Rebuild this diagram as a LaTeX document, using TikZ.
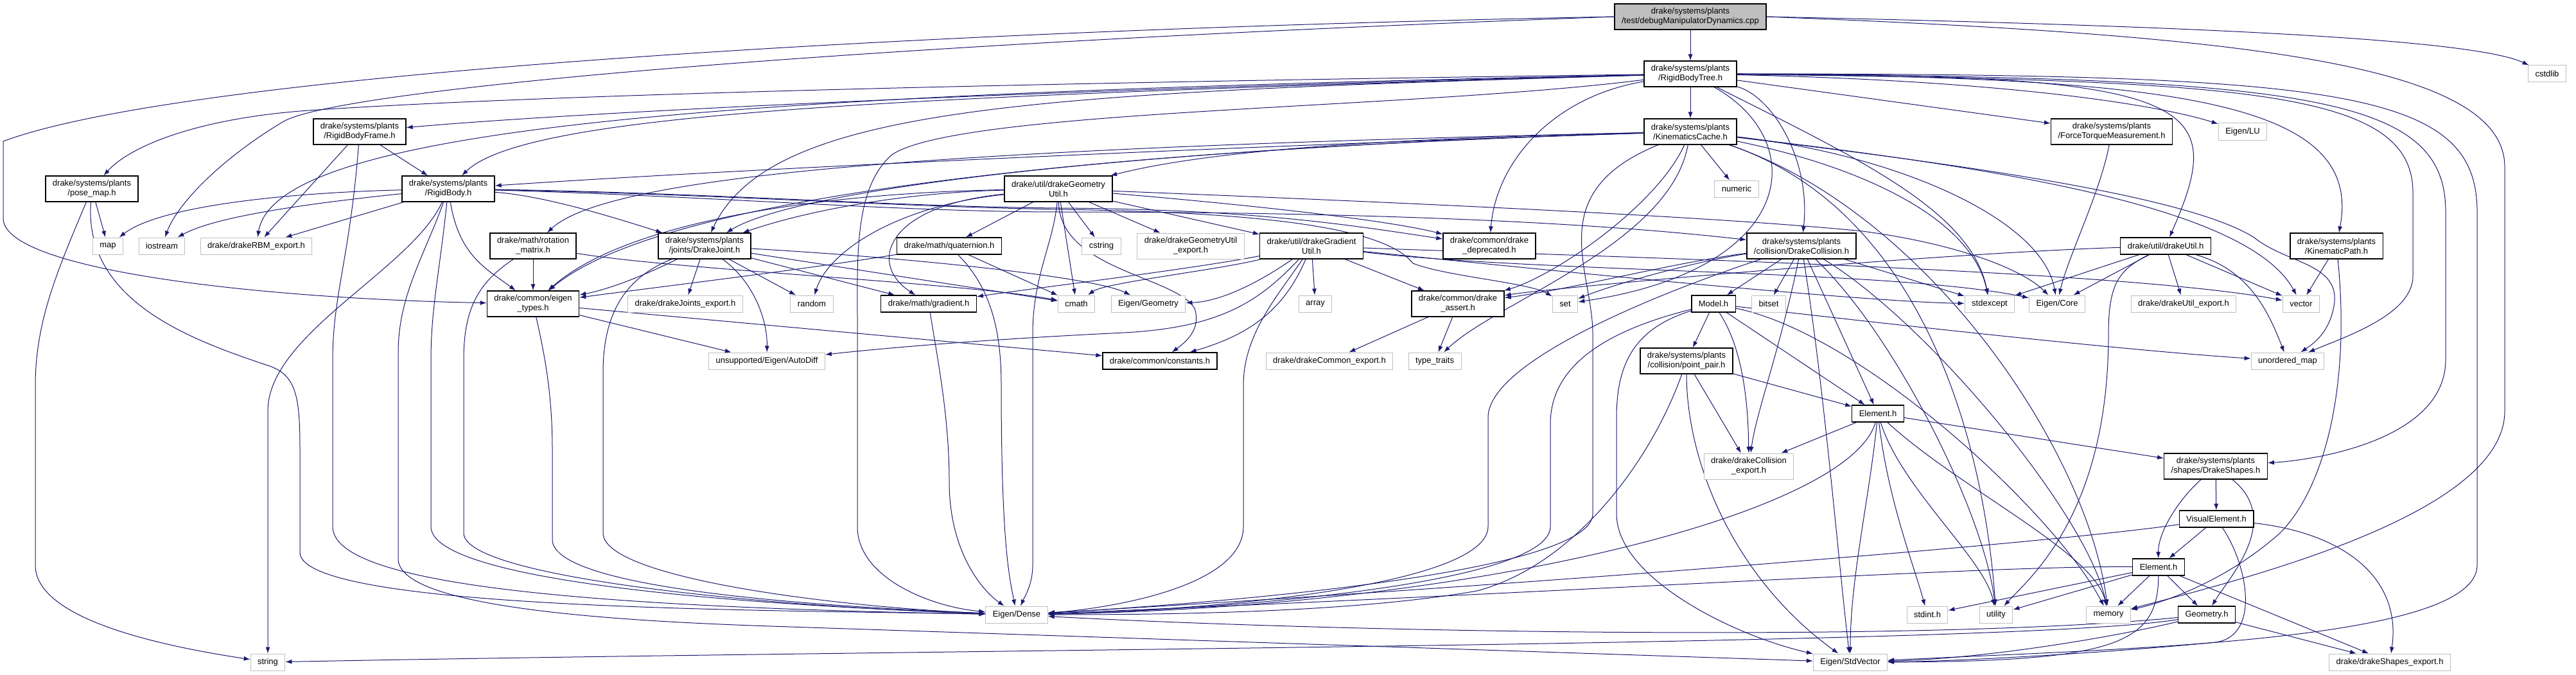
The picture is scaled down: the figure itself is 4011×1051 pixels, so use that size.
\documentclass[tikz,border=0pt]{standalone}
\usepackage{fontspec}
\setmainfont{Liberation Sans}
\usetikzlibrary{arrows.meta,backgrounds}
\definecolor{edgeblue}{RGB}{25,25,112}
\definecolor{sysgray}{RGB}{191,191,191}
\newcommand{\hdrfont}{\fontsize{13pt}{15pt}\selectfont}

\begin{document}
\begin{tikzpicture}[x=1pt,y=1pt,
  filebox/.style={
    draw=black,
    fill=white,
    line width=1.2pt,
    font=\hdrfont,
    align=center,
    inner xsep=11pt,
    inner ysep=2pt,
    minimum height=26pt
  },
  sysbox/.style={
    filebox,
    draw=sysgray,
    line width=1pt
  },
  rootbox/.style={
    filebox,
    fill=sysgray
  },
  twoline/.style={
    minimum height=40pt
  },
  dep/.style={
    -{Latex[length=10pt,width=7pt]},
    line width=1pt,
    draw=edgeblue
  }
  ]

  \useasboundingbox (0,0) rectangle (4011,-1051);

  \node[rootbox,twoline] (root) at (2632,-26) {drake/systems/plants\\/test/debugManipulatorDynamics.cpp};
  \node[filebox,twoline] (rbt) at (2632,-115) {drake/systems/plants\\/RigidBodyTree.h};
  \node[filebox,twoline] (kcache) at (2632,-205) {drake/systems/plants\\/KinematicsCache.h};
  \node[sysbox] (cstdlib) at (3966,-115) {cstdlib};
  \node[filebox,twoline] (rbframe) at (560,-205) {drake/systems/plants\\/RigidBodyFrame.h};
  \node[filebox,twoline] (ftm) at (3288,-205) {drake/systems/plants\\/ForceTorqueMeasurement.h};
  \node[sysbox] (eigenlu) at (3492,-205) {Eigen/LU};
  \node[filebox,twoline] (posemap) at (143,-294) {drake/systems/plants\\/pose\_map.h};
  \node[filebox,twoline] (rbody) at (698,-294) {drake/systems/plants\\/RigidBody.h};
  \node[filebox,twoline] (geomutil) at (1648,-294) {drake/util/drakeGeometry\\Util.h};
  \node[sysbox] (numeric) at (2704,-294) {numeric};
  \node[sysbox] (map) at (168,-383) {map};
  \node[sysbox] (iostream) at (252,-383) {iostream};
  \node[sysbox] (rbmexport) at (399,-383) {drake/drakeRBM\_export.h};
  \node[filebox,twoline] (rotmat) at (830,-383) {drake/math/rotation\\\_matrix.h};
  \node[filebox,twoline] (joint) at (1097,-383) {drake/systems/plants\\/joints/DrakeJoint.h};
  \node[filebox] (quat) at (1478,-383) {drake/math/quaternion.h};
  \node[sysbox] (cstring) at (1715,-383) {cstring};
  \node[sysbox,twoline] (geomexport) at (1854,-383) {drake/drakeGeometryUtil\\\_export.h};
  \node[filebox,twoline] (gradutil) at (2042,-383) {drake/util/drakeGradient\\Util.h};
  \node[filebox,twoline] (deprecated) at (2319,-383) {drake/common/drake\\\_deprecated.h};
  \node[filebox,twoline] (collision) at (2805,-383) {drake/systems/plants\\/collision/DrakeCollision.h};
  \node[filebox] (drakeutil) at (3372,-383) {drake/util/drakeUtil.h};
  \node[filebox,twoline] (kinpath) at (3638,-383) {drake/systems/plants\\/KinematicPath.h};
  \node[filebox,twoline] (eigentypes) at (830,-473) {drake/common/eigen\\\_types.h};
  \node[sysbox] (jointsexport) at (1067,-473) {drake/drakeJoints\_export.h};
  \node[sysbox] (random) at (1264,-473) {random};
  \node[filebox] (gradient) at (1446,-473) {drake/math/gradient.h};
  \node[sysbox] (cmath) at (1676,-473) {cmath};
  \node[sysbox] (geometry) at (1788,-473) {Eigen/Geometry};
  \node[sysbox] (array) at (2048,-473) {array};
  \node[filebox,twoline] (dassert) at (2270,-473) {drake/common/drake\\\_assert.h};
  \node[sysbox] (set) at (2437,-473) {set};
  \node[filebox] (model) at (2668,-473) {Model.h};
  \node[sysbox] (bitset) at (2754,-473) {bitset};
  \node[sysbox] (stdexcept) at (3098,-473) {stdexcept};
  \node[sysbox] (core) at (3203,-473) {Eigen/Core};
  \node[sysbox] (utilexport) at (3400,-473) {drake/drakeUtil\_export.h};
  \node[sysbox] (vector) at (3583,-473) {vector};
  \node[sysbox] (autodiff) at (1194,-562) {unsupported/Eigen/AutoDiff};
  \node[filebox] (constants) at (1806,-562) {drake/common/constants.h};
  \node[sysbox] (commonexport) at (2070,-562) {drake/drakeCommon\_export.h};
  \node[sysbox] (typetraits) at (2234,-562) {type\_traits};
  \node[filebox,twoline] (pointpair) at (2626,-562) {drake/systems/plants\\/collision/point\_pair.h};
  \node[sysbox] (unordmap) at (3562,-562) {unordered\_map};
  \node[filebox] (celement) at (2924,-644) {Element.h};
  \node[sysbox,twoline] (collexport) at (2723,-726) {drake/drakeCollision\\\_export.h};
  \node[filebox,twoline] (shapes) at (3450,-726) {drake/systems/plants\\/shapes/DrakeShapes.h};
  \node[filebox] (visel) at (3451,-808) {VisualElement.h};
  \node[filebox] (selement) at (3361,-883) {Element.h};
  \node[sysbox] (dense) at (1583,-957) {Eigen/Dense};
  \node[sysbox] (stdint) at (3001,-957) {stdint.h};
  \node[sysbox] (utility) at (3108,-957) {utility};
  \node[sysbox] (memory) at (3283,-957) {memory};
  \node[filebox] (sgeometry) at (3436,-957) {Geometry.h};
  \node[sysbox] (string) at (417,-1031) {string};
  \node[sysbox] (stdvector) at (2881,-1031) {Eigen/StdVector};
  \node[sysbox] (shapesexport) at (3721,-1031) {drake/drakeShapes\_export.h};

  \begin{scope}[on background layer]
  \draw[dep] (root) -- (rbt);
  \draw[dep] (root.west) .. controls (1500,-45) and (300,-110) .. (5,-220) -- (5,-340) .. controls (5,-420) and (400,-465) .. (eigentypes);
  \draw[dep] (root.west) .. controls (1300,-70) and (520,-140) .. (440,-190) .. controls (340,-250) and (275,-320) .. (iostream);
  \draw[dep] (root.east) .. controls (3400,-40) and (3850,-60) .. (cstdlib);
  \draw[dep] (root.east) .. controls (3500,-55) and (3900,-100) .. (3900,-260) -- (3900,-640) .. controls (3900,-800) and (3500,-900) .. (memory);

  \draw[dep] (rbt) -- (kcache);
  \draw[dep] (rbt) .. controls (1500,-130) and (800,-150) .. (480,-172) .. controls (300,-185) and (200,-230) .. (posemap);
  \draw[dep] (rbt) .. controls (1600,-140) and (900,-175) .. (rbframe);
  \draw[dep] (rbt) .. controls (1400,-150) and (820,-175) .. (rbody);
  \draw[dep] (rbt) .. controls (1200,-145) and (430,-190) .. (rbmexport);
  \draw[dep] (rbt) .. controls (1600,-145) and (1200,-165) .. (joint);
  \draw[dep] (rbt) .. controls (2200,-170) and (1500,-170) .. (1390,-240) .. controls (1330,-290) and (1335,-400) .. (1335,-500) -- (1335,-820) .. controls (1335,-900) and (1450,-945) .. (dense);
  \draw[dep] (rbt) .. controls (2420,-150) and (2330,-250) .. (deprecated);
  \draw[dep] (rbt) .. controls (2760,-150) and (2820,-250) .. (collision);
  \draw[dep] (rbt) -- (ftm);
  \draw[dep] (rbt) .. controls (3100,-125) and (3350,-160) .. (eigenlu);
  \draw[dep] (rbt) .. controls (3430,-115) and (3470,-160) .. (drakeutil);
  \draw[dep] (rbt) .. controls (3400,-120) and (3680,-160) .. (kinpath);
  \draw[dep] (rbt) .. controls (3500,-125) and (3757,-140) .. (3757,-300) -- (3757,-430) .. controls (3757,-490) and (3650,-525) .. (unordmap);
  \draw[dep] (rbt) .. controls (3600,-120) and (3808,-150) .. (3808,-330) -- (3808,-560) .. controls (3808,-680) and (3620,-715) .. (shapes);
  \draw[dep] (rbt) .. controls (3650,-115) and (3857,-140) .. (3857,-330) -- (3857,-880) .. controls (3857,-1000) and (3300,-1010) .. (stdvector);
  \draw[dep] (rbt) .. controls (2900,-250) and (3070,-330) .. (stdexcept);
  \draw[dep] (rbt) .. controls (2820,-220) and (2800,-420) .. (set);

  \draw[dep] (kcache) -- (numeric);
  \draw[dep] (kcache) .. controls (2000,-225) and (1200,-260) .. (rbody);
  \draw[dep] (kcache) .. controls (1500,-230) and (950,-270) .. (rotmat);
  \draw[dep] (kcache) .. controls (1500,-240) and (1000,-330) .. (eigentypes);
  \draw[dep] (kcache) .. controls (1800,-230) and (1250,-290) .. (joint);
  \draw[dep] (kcache) .. controls (2200,-215) and (1900,-230) .. (geomutil);
  \draw[dep] (kcache) .. controls (2400,-300) and (2480,-420) .. (2480,-520) -- (2480,-800) .. controls (2480,-900) and (1800,-945) .. (dense);
  \draw[dep] (kcache) .. controls (2580,-320) and (2420,-430) .. (dassert);
  \draw[dep] (kcache) .. controls (2600,-380) and (2330,-470) .. (typetraits);
  \draw[dep] (kcache) .. controls (2900,-260) and (3070,-340) .. (stdexcept);
  \draw[dep] (kcache) .. controls (2950,-240) and (3180,-340) .. (core);
  \draw[dep] (kcache) .. controls (3100,-260) and (3500,-320) .. (vector);
  \draw[dep] (kcache) .. controls (3000,-250) and (3400,-300) .. (3510,-370) .. controls (3560,-410) and (3640,-410) .. (3635,-470) .. controls (3630,-510) and (3610,-530) .. (unordmap);
  \draw[dep] (kcache) .. controls (3000,-330) and (3250,-700) .. (memory);
  \draw[dep] (kcache) .. controls (3000,-330) and (3090,-700) .. (utility);

  \draw[dep] (rbframe) -- (rbody);
  \draw[dep] (rbframe) -- (rbmexport);
  \draw[dep] (rbframe) .. controls (545,-400) and (518,-460) .. (518,-560) -- (518,-820) .. controls (518,-910) and (900,-945) .. (dense);

  \draw[dep] (posemap) -- (map);
  \draw[dep] (posemap) .. controls (90,-420) and (55,-500) .. (55,-600) -- (55,-880) .. controls (55,-970) and (280,-1010) .. (string);
  \draw[dep] (posemap) .. controls (130,-470) and (300,-530) .. (420,-570) .. controls (462,-585) and (467,-620) .. (467,-700) -- (467,-860) .. controls (467,-950) and (1200,-950) .. (dense);

  \draw[dep] (rbody) .. controls (450,-300) and (250,-320) .. (map);
  \draw[dep] (rbody) .. controls (450,-320) and (330,-340) .. (iostream);
  \draw[dep] (rbody) -- (rbmexport);
  \draw[dep] (rbody) .. controls (640,-420) and (417,-520) .. (417,-640) -- (string);
  \draw[dep] (rbody) .. controls (715,-400) and (760,-420) .. (eigentypes);
  \draw[dep] (rbody) .. controls (685,-420) and (671,-480) .. (671,-560) -- (671,-820) .. controls (671,-900) and (1100,-940) .. (dense);
  \draw[dep] (rbody) .. controls (660,-400) and (620,-460) .. (620,-550) -- (620,-870) .. controls (620,-940) and (900,-965) .. (1200,-975) -- (stdvector);
  \draw[dep] (rbody) .. controls (850,-305) and (960,-340) .. (joint);
  \draw[dep] (rbody) .. controls (1100,-300) and (1400,-322) .. (1650,-324) .. controls (1950,-326) and (2100,-350) .. (deprecated);
  \draw[dep] (rbody) .. controls (1100,-305) and (1400,-330) .. (1650,-330) .. controls (2300,-330) and (2600,-360) .. (collision);
  \draw[dep] (rbody) .. controls (1100,-302) and (1400,-322) .. (1650,-326) .. controls (1900,-330) and (2150,-345) .. (2200,-410) .. controls (2250,-430) and (2380,-440) .. (set);

  \draw[dep] (rotmat) -- (eigentypes);
  \draw[dep] (rotmat) .. controls (745,-440) and (722,-480) .. (722,-560) -- (722,-830) .. controls (722,-900) and (1200,-945) .. (dense);
  \draw[dep] (rotmat) .. controls (1050,-420) and (1500,-440) .. (cmath);

  \draw[dep] (eigentypes) .. controls (850,-560) and (860,-620) .. (860,-700) -- (860,-840) .. controls (860,-920) and (1300,-945) .. (dense);
  \draw[dep] (eigentypes) -- (autodiff);
  \draw[dep] (eigentypes) -- (constants);

  \draw[dep] (joint) .. controls (1000,-430) and (950,-450) .. (eigentypes);
  \draw[dep] (joint) -- (jointsexport);
  \draw[dep] (joint) -- (random);
  \draw[dep] (joint) -- (gradient);
  \draw[dep] (joint) -- (cmath);
  \draw[dep] (joint) .. controls (1400,-400) and (1700,-430) .. (geometry);
  \draw[dep] (joint) .. controls (1175,-440) and (1195,-500) .. (autodiff);
  \draw[dep] (joint) .. controls (980,-430) and (939,-480) .. (939,-580) -- (939,-830) .. controls (939,-900) and (1300,-945) .. (dense);

  \draw[dep] (geomutil) .. controls (1400,-300) and (1250,-330) .. (joint);
  \draw[dep] (geomutil) .. controls (1300,-300) and (980,-340) .. (eigentypes);
  \draw[dep] (geomutil) -- (quat);
  \draw[dep] (geomutil) -- (cmath);
  \draw[dep] (geomutil) -- (cstring);
  \draw[dep] (geomutil) -- (geomexport);
  \draw[dep] (geomutil) -- (gradutil);
  \draw[dep] (geomutil) .. controls (1400,-320) and (1290,-390) .. (random);
  \draw[dep] (geomutil) .. controls (1380,-320) and (1350,-410) .. (gradient);
  \draw[dep] (geomutil) .. controls (1640,-380) and (1608,-430) .. (1608,-520) -- (1608,-880) .. controls (1608,-910) and (1595,-930) .. (dense);
  \draw[dep] (geomutil) .. controls (1650,-420) and (1830,-430) .. (1860,-480) .. controls (1870,-510) and (1850,-530) .. (constants);
  \draw[dep] (geomutil) .. controls (1900,-315) and (2150,-340) .. (deprecated);
  \draw[dep] (geomutil) .. controls (2300,-320) and (2700,-340) .. (2900,-360) .. controls (3050,-380) and (3150,-420) .. (core);

  \draw[dep] (quat) .. controls (1250,-420) and (1000,-450) .. (eigentypes);
  \draw[dep] (quat) -- (cmath);
  \draw[dep] (quat) .. controls (1545,-450) and (1559,-520) .. (1559,-600) .. controls (1559,-850) and (1572,-900) .. (dense);

  \draw[dep] (gradient) .. controls (1460,-560) and (1478,-650) .. (1478,-750) .. controls (1478,-860) and (1530,-920) .. (dense);

  \draw[dep] (gradutil) .. controls (1850,-420) and (1600,-450) .. (gradient);
  \draw[dep] (gradutil) .. controls (1900,-420) and (1720,-440) .. (cmath);
  \draw[dep] (gradutil) .. controls (1960,-440) and (1900,-470) .. (geometry);
  \draw[dep] (gradutil) -- (array);
  \draw[dep] (gradutil) -- (dassert);
  \draw[dep] (gradutil) .. controls (1960,-470) and (1900,-510) .. (1750,-518) .. controls (1500,-530) and (1350,-545) .. (autodiff);
  \draw[dep] (gradutil) .. controls (2000,-480) and (1950,-520) .. (constants);
  \draw[dep] (gradutil) .. controls (1990,-460) and (1936,-520) .. (1936,-600) -- (1936,-820) .. controls (1936,-920) and (1700,-950) .. (dense);
  \draw[dep] (gradutil) .. controls (2400,-420) and (2900,-470) .. (stdexcept);
  \draw[dep] (gradutil) .. controls (2400,-425) and (2950,-420) .. (core);
  \draw[dep] (gradutil) .. controls (2500,-400) and (3300,-420) .. (vector);

  \draw[dep] (dassert) -- (commonexport);
  \draw[dep] (dassert) -- (typetraits);

  \draw[dep] (collision) .. controls (2600,-410) and (2450,-450) .. (dassert);
  \draw[dep] (collision) .. controls (2650,-405) and (2520,-440) .. (set);
  \draw[dep] (collision) -- (model);
  \draw[dep] (collision) -- (bitset);
  \draw[dep] (collision) .. controls (2600,-450) and (2317,-560) .. (2317,-650) -- (2317,-820) .. controls (2317,-910) and (1900,-950) .. (dense);
  \draw[dep] (collision) .. controls (2770,-550) and (2735,-640) .. (collexport);
  \draw[dep] (collision) -- (celement);
  \draw[dep] (collision) .. controls (2840,-600) and (2860,-850) .. (stdvector);
  \draw[dep] (collision) -- (stdexcept);
  \draw[dep] (collision) .. controls (3000,-500) and (3250,-800) .. (memory);
  \draw[dep] (collision) .. controls (2950,-520) and (3090,-800) .. (utility);

  \draw[dep] (model) -- (pointpair);
  \draw[dep] (model) -- (celement);
  \draw[dep] (model) .. controls (2712,-540) and (2722,-620) .. (collexport);
  \draw[dep] (model) .. controls (2550,-510) and (2517,-560) .. (2517,-650) -- (2517,-800) .. controls (2517,-900) and (2700,-990) .. (stdvector);
  \draw[dep] (model) .. controls (2520,-510) and (2414,-560) .. (2414,-660) -- (2414,-820) .. controls (2414,-910) and (1900,-950) .. (dense);
  \draw[dep] (model) .. controls (2900,-520) and (3200,-800) .. (memory);
  \draw[dep] (model) .. controls (2900,-500) and (3300,-545) .. (unordmap);

  \draw[dep] (pointpair) -- (celement);
  \draw[dep] (pointpair) -- (collexport);
  \draw[dep] (pointpair) .. controls (2626,-720) and (2700,-900) .. (stdvector);
  \draw[dep] (pointpair) .. controls (2570,-720) and (2450,-880) .. (2300,-920) .. controls (2100,-955) and (1800,-957) .. (dense);

  \draw[dep] (celement) -- (collexport);
  \draw[dep] (celement) .. controls (2880,-800) and (2300,-945) .. (dense);
  \draw[dep] (celement) .. controls (2910,-780) and (2881,-900) .. (stdvector);
  \draw[dep] (celement) .. controls (2940,-780) and (2980,-880) .. (stdint);
  \draw[dep] (celement) .. controls (2960,-760) and (3090,-870) .. (utility);
  \draw[dep] (celement) .. controls (3050,-760) and (3260,-860) .. (memory);
  \draw[dep] (celement) -- (shapes);

  \draw[dep] (shapes) -- (visel);
  \draw[dep] (shapes) .. controls (3390,-780) and (3360,-830) .. (selement);
  \draw[dep] (shapes) .. controls (3555,-810) and (3470,-900) .. (sgeometry);

  \draw[dep] (visel) -- (selement);
  \draw[dep] (visel) .. controls (3200,-845) and (2400,-910) .. (dense);
  \draw[dep] (visel) .. controls (3500,-880) and (3520,-990) .. (3450,-1000) .. controls (3300,-1015) and (3050,-1030) .. (stdvector);
  \draw[dep] (visel) .. controls (3650,-830) and (3740,-900) .. (shapesexport);

  \draw[dep] (selement) .. controls (3100,-880) and (2400,-925) .. (dense);
  \draw[dep] (selement) -- (stdint);
  \draw[dep] (selement) -- (utility);
  \draw[dep] (selement) -- (memory);
  \draw[dep] (selement) -- (sgeometry);
  \draw[dep] (selement) -- (shapesexport);
  \draw[dep] (selement) .. controls (3360,-1000) and (3300,-1030) .. (stdvector);

  \draw[dep] (sgeometry) .. controls (3300,-990) and (3100,-1025) .. (stdvector);
  \draw[dep] (sgeometry) .. controls (3000,-1000) and (2100,-985) .. (dense);
  \draw[dep] (sgeometry) .. controls (3150,-1005) and (1500,-1010) .. (string);
  \draw[dep] (sgeometry) -- (shapesexport);

  \draw[dep] (drakeutil) .. controls (3000,-395) and (2400,-450) .. (dassert);
  \draw[dep] (drakeutil) -- (stdexcept);
  \draw[dep] (drakeutil) -- (core);
  \draw[dep] (drakeutil) -- (utilexport);
  \draw[dep] (drakeutil) -- (vector);
  \draw[dep] (drakeutil) .. controls (3500,-420) and (3530,-480) .. (unordmap);
  \draw[dep] (drakeutil) .. controls (3300,-420) and (3283,-440) .. (3283,-520) .. controls (3283,-800) and (3160,-900) .. (utility);

  \draw[dep] (ftm) .. controls (3270,-300) and (3220,-400) .. (core);

  \draw[dep] (kinpath) -- (vector);
  \draw[dep] (kinpath) .. controls (3660,-600) and (3620,-760) .. (3550,-830) .. controls (3460,-910) and (3360,-940) .. (memory);
  \end{scope}

\end{tikzpicture}
\end{document}
